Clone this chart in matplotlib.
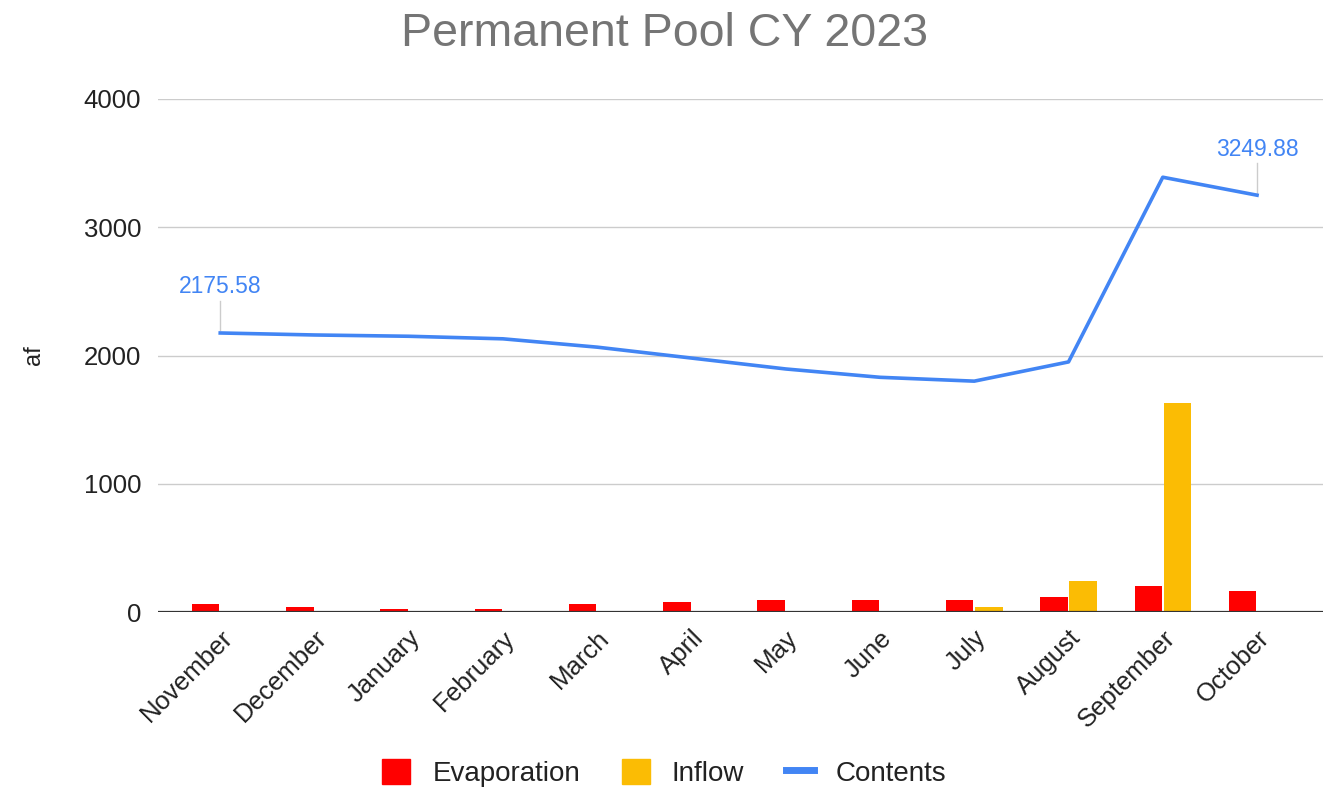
import numpy as np
import matplotlib.pyplot as plt
from matplotlib.patches import Patch
from matplotlib.lines import Line2D

plt.rcParams['font.family'] = ['Liberation Sans', 'DejaVu Sans']

months = ['November', 'December', 'January', 'February', 'March', 'April',
          'May', 'June', 'July', 'August', 'September', 'October']
evaporation = [60, 39, 21, 21, 60, 78, 97, 97, 97, 115, 204, 167]
inflow = [0, 0, 0, 0, 0, 0, 0, 0, 39, 243, 1629, 0]
contents = [2175.58, 2160, 2150, 2130, 2065, 1980, 1895, 1830, 1800, 1950, 3390, 3249.88]

red = '#ff0000'
yellow = '#fbbc04'
blue = '#4285f4'

fig = plt.figure(figsize=(13.29, 7.9), dpi=100)
ax = fig.add_axes([0.1189, 0.2253, 0.8766, 0.6494])

x = np.arange(len(months))
w = 0.29
ax.bar(x - w / 2 - 0.01, evaporation, w, color=red, zorder=3)
ax.bar(x + w / 2 + 0.01, inflow, w, color=yellow, zorder=3)
ax.plot(x, contents, color=blue, lw=2.6, zorder=4, solid_joinstyle='round')

# labels on the first and last point, with a thin leader line
for i in (0, len(months) - 1):
    ax.plot([x[i], x[i]], [contents[i] + 20, contents[i] + 250], color='#cccccc', lw=1, zorder=2)
    ax.text(x[i], contents[i] + 270, f'{contents[i]:.2f}', color=blue, fontsize=16.5,
            ha='center', va='bottom', zorder=5)

ax.set_xlim(-0.66, 11.7)
ax.set_ylim(0, 4000)
ax.set_yticks([0, 1000, 2000, 3000, 4000])
ax.grid(axis='y', color='#cccccc', lw=1, zorder=0)
ax.axhline(0, color='#333333', lw=1.6, zorder=5)
for s in ax.spines.values():
    s.set_visible(False)
ax.tick_params(axis='both', length=0, labelsize=18.5, labelcolor='#222222')
ax.tick_params(axis='y', pad=12)
ax.set_xticks(x)
ax.set_xticklabels(months, rotation=45, ha='right', rotation_mode='anchor')
ax.tick_params(axis='x', pad=10)
ax.set_ylabel('af', fontsize=17, color='#222222', labelpad=28)

fig.text(0.5, 0.957, 'Permanent Pool CY 2023', ha='center', va='center',
         fontsize=33.5, color='#757575')

handles = [Patch(color=red, label='Evaporation'),
           Patch(color=yellow, label='Inflow'),
           Line2D([], [], color=blue, lw=5, label='Contents')]
fig.legend(handles=handles, loc='center', bbox_to_anchor=(0.5, 0.021), ncol=3,
           frameon=False, fontsize=20, handlelength=1.0, handleheight=1.0,
           columnspacing=1.5, handletextpad=0.8, labelcolor='#222222')

fig.savefig('out.png', dpi=100)
